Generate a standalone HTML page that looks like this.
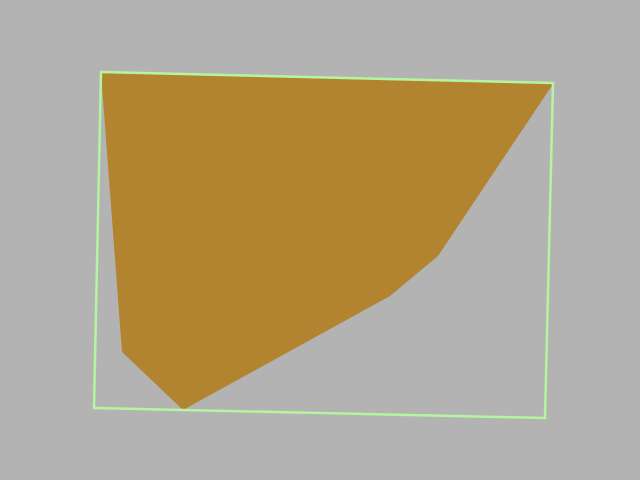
<!DOCTYPE html>
<html><head><meta charset="utf-8"><style>
html,body{margin:0;padding:0;background:#b3b3b3;}
svg{display:block;}
</style></head><body>
<svg id="chart" width="640" height="480" viewBox="0 0 640 480">
<rect x="0" y="0" width="640" height="480" fill="#b3b3b3"/>
</svg>
<script>
const fillX = [101, 553, 438, 390, 183, 122];
const fillY = [73, 84, 256, 296, 410, 352];
const boxX = [101, 553, 545, 94];
const boxY = [72, 83, 418, 408];
const svg = document.getElementById('chart');
const NS = 'http://www.w3.org/2000/svg';
function pts(xs, ys){ return xs.map((x,i)=>x+','+ys[i]).join(' '); }
const poly = document.createElementNS(NS,'polygon');
poly.setAttribute('points', pts(fillX, fillY));
poly.setAttribute('fill', '#b3842f');


svg.appendChild(poly);
const box = document.createElementNS(NS,'polygon');
box.setAttribute('points', pts(boxX, boxY));
box.setAttribute('fill', 'none');
box.setAttribute('stroke', '#b4f5a0');
box.setAttribute('stroke-width', '2.5');


svg.appendChild(box);
</script>
</body></html>
